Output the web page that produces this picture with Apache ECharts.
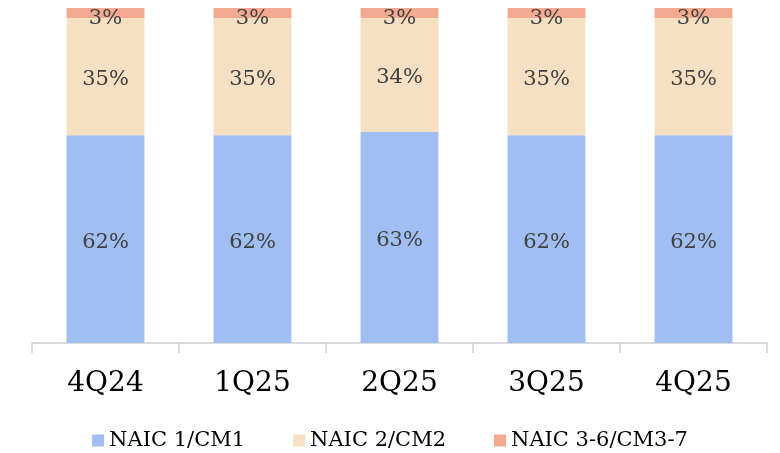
<!DOCTYPE html>
<html>
<head>
<meta charset="utf-8">
<script src="https://cdn.jsdelivr.net/npm/echarts@6/dist/echarts.min.js"></script>
<style>
  html, body { margin: 0; padding: 0; background: #fff; }
  #chart { width: 780px; height: 453px; }
</style>
</head>
<body>
<div id="chart"></div>
<script>
const categories = ["4Q24", "1Q25", "2Q25", "3Q25", "4Q25"];
const naic1 = [62, 62, 63, 62, 62];
const naic2 = [35, 35, 34, 35, 35];
const naic3 = [3, 3, 3, 3, 3];

const fontFamily = "'DejaVu Serif', 'Liberation Serif', serif";

const chart = echarts.init(document.getElementById("chart"));

const makeSeries = (name, data, color, offsetY) => ({
  name,
  type: "bar",
  stack: "total",
  data,
  barWidth: "53%",
  itemStyle: { color },
  label: {
    show: true,
    position: "inside",
    formatter: "{c}%",
    color: "#404040",
    fontSize: 21,
    fontFamily,
    offset: [0, offsetY]
  }
});

chart.setOption({
  animation: false,
  grid: { left: 32, right: 13, top: 8, bottom: 110 },
  legend: {
    top: 425,
    left: "center",
    itemWidth: 12,
    itemHeight: 12,
    itemGap: 48,
    icon: "rect",
    textStyle: { fontSize: 21, fontFamily, color: "#000" },
    data: ["NAIC 1/CM1", "NAIC 2/CM2", "NAIC 3-6/CM3-7"]
  },
  xAxis: {
    type: "category",
    data: categories,
    axisLine: { lineStyle: { color: "#d0d0d0", width: 1.5 } },
    axisTick: { show: true, length: 10, lineStyle: { color: "#d0d0d0", width: 1.5 } },
    axisLabel: { fontSize: 28, fontFamily, color: "#000", margin: 27 }
  },
  yAxis: {
    type: "value",
    min: 0,
    max: 100,
    show: false,
    splitLine: { show: false }
  },
  series: [
    makeSeries("NAIC 1/CM1", naic1, "#a0bef2", 3),
    makeSeries("NAIC 2/CM2", naic2, "#f6e0c3", 3),
    makeSeries("NAIC 3-6/CM3-7", naic3, "#f3aa91", 6)
  ]
});
</script>
</body>
</html>
